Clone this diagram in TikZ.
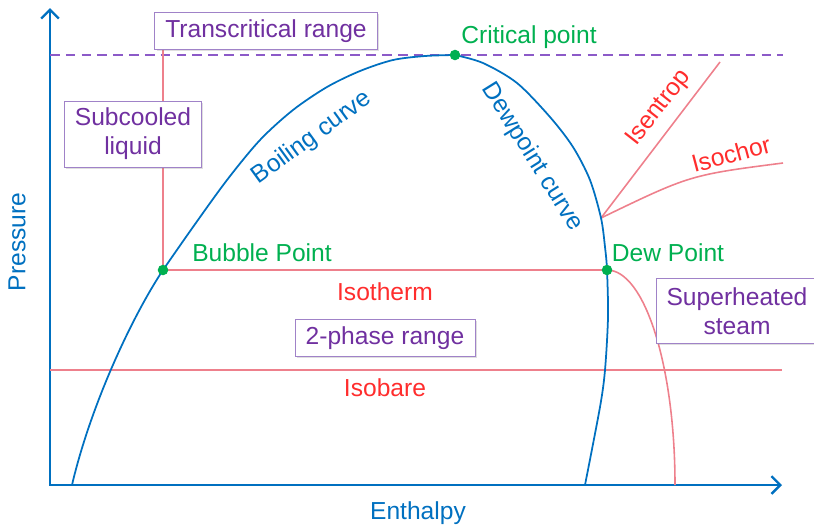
\documentclass[tikz,border=0pt]{standalone}
\usepackage{fontspec}
\setmainfont{Liberation Sans}
\usetikzlibrary{arrows.meta,shadows}
\definecolor{axisblue}{RGB}{0,112,192}
\definecolor{ptgreen}{RGB}{0,176,80}
\definecolor{lblred}{RGB}{255,45,45}
\definecolor{linered}{RGB}{238,128,140}
\definecolor{boxpurple}{RGB}{112,48,160}
\definecolor{edgepurple}{RGB}{160,130,200}
\definecolor{dashpurple}{RGB}{140,90,200}

\begin{document}
\begin{tikzpicture}[x=0.02cm,y=-0.02cm,font=\fontsize{14}{16.5}\selectfont,
  sat/.style={axisblue,line width=1pt},
  iso/.style={linered,line width=0.9pt},
  region/.style={draw=edgepurple,fill=white,text=boxpurple,align=center,
    inner xsep=6pt,inner ysep=4pt,
    drop shadow={shadow xshift=1pt,shadow yshift=-1pt,opacity=0.25}},
  ptlabel/.style={text=ptgreen},
  isolabel/.style={text=lblred},
  curvelabel/.style={text=axisblue},
  dot/.style={circle,fill=ptgreen,inner sep=0pt,minimum size=6pt}]

\useasboundingbox (0,0) rectangle (814,525);

% points of the diagram
\coordinate (ytip) at (50,8);
\coordinate (xtip) at (782,485);
\coordinate (crit) at (455,55);
\coordinate (bubble) at (163,270);
\coordinate (dew) at (607,270);
\coordinate (turn) at (601,218);
\coordinate (boilfoot) at (72,485);
\coordinate (dewfoot) at (585,485);
\coordinate (isofoot) at (675,485);
\coordinate (barleft) at (50,370);
\coordinate (barright) at (782,370);
\coordinate (dashleft) at (50,55);
\coordinate (dashright) at (783,55);
\coordinate (entend) at (720,62);
\coordinate (chorend) at (783,163);
\coordinate (transfoot) at (163,50);

% axes
\draw[axisblue,line width=1.4pt,{Straight Barb[length=5pt,width=10pt]}-{Straight Barb[length=5pt,width=10pt]}]
  (ytip) |- (xtip);
\node[curvelabel,rotate=90] (pressure) at (17,242) {Pressure};
\node[curvelabel] (enthalpy) at (418,513) {Enthalpy};

\draw[dashpurple,line width=1.1pt,dash pattern=on 5.5pt off 3.5pt] (dashleft) -- (dashright);

% red lines
\draw[iso] (barleft) -- (barright);
\draw[iso] (bubble) -- (transfoot);
\draw[iso] (bubble) -- (dew) .. controls (644.6,270) and (675,366) .. (isofoot);
\draw[iso] (turn) -- (entend);
\draw[iso] (turn) .. controls (690,175) .. (chorend);

% saturation curves
\draw[sat] (boilfoot) .. controls (90,408) and (130,320) .. (bubble)
  -- plot[smooth] coordinates {(bubble) (193,227) (227,180) (260,140) (293,110)
  (327,87) (360,71) (393,60) (425,56) (crit)};
\draw[sat] plot[smooth] coordinates {(crit) (483,63) (517,83) (550,117) (573,147)
  (590,180) (turn) (605,247) (dew) (608,317) (605,370) (600,407) (dewfoot)};

% regions
\node[region] (trans) at (266,31) {Transcritical range};
\node[region] (subcooled) at (133,134) {Subcooled\\liquid};
\node[region] (twophase) at (385,338) {2-phase range};
\node[region,inner ysep=5pt] (superheated) at (737,311) {Superheated\\steam};

% labels
\node[ptlabel] (critlabel) at (529,37) {Critical point};
\node[ptlabel] (bubblelabel) at (262,253) {Bubble Point};
\node[ptlabel] (dewlabel) at (668,253) {Dew Point};
\node[isolabel] (isotherm) at (385,292) {Isotherm};
\node[isolabel] (isobare) at (385,388) {Isobare};
\node[curvelabel,rotate=36] (boiling) at (312,138) {Boiling curve};
\node[curvelabel,rotate=-58] (dewcurve) at (532,157) {Dewpoint curve};
\node[isolabel,rotate=52] (isentrop) at (659,108) {Isentrop};
\node[isolabel,rotate=15] (isochor) at (731,154) {Isochor};

\node[dot] (critdot) at (crit) {};
\node[dot] (bubbledot) at (bubble) {};
\node[dot] (dewdot) at (dew) {};
\end{tikzpicture}
\end{document}
